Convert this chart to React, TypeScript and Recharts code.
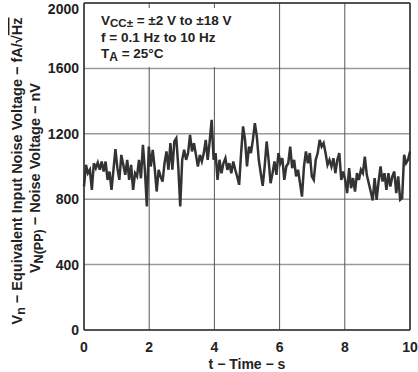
import { LineChart, Line, XAxis, YAxis, CartesianGrid, ReferenceLine } from "recharts";

// peak-to-peak noise voltage (nV) sampled evenly over 0..10 s
const noiseNv = [
  878, 1010, 959, 980, 857, 1020, 990, 1024, 980, 1030, 969, 1030, 918, 969, 857, 980, 1106, 990, 918, 1071,
  1010, 949, 1041, 918, 1010, 857, 959, 939, 1041, 928, 1132, 980, 755,
  1122, 1000, 1102, 990, 847, 980, 939, 908, 1020, 1092, 980, 1143, 980, 1153, 1173, 1000, 755, 1041, 1102,
  1041, 1082, 1194, 1092, 1143, 1071, 1000, 1071, 1031, 1082, 1163, 1041, 1153, 1286,
  1041, 1082, 918, 1041, 959, 1020, 1051, 980, 1020, 959, 1031, 980, 939, 888, 1082, 1245, 1163, 1000, 1122,
  1082, 1163, 1265, 1184, 1041, 959, 882, 1000, 1153, 1041, 898, 959, 1031, 949, 1082,
  1020, 1051, 918, 1000, 1020, 1122, 990, 1041, 939, 980, 898, 816, 1000, 1092, 1020, 1082, 939, 918, 1041,
  1082, 1163, 1122, 1143, 1082, 1010, 1041, 1000, 1051, 959, 1041, 1082, 918,
  969, 918, 837, 990, 867, 929, 847, 959, 918, 980, 959, 1061, 949, 898, 847, 792, 929, 796, 908, 1000, 908,
  959, 857, 959, 878, 939, 969, 837, 939, 796, 806, 1071, 1020, 1041, 1092,
];

const xTicks = [0, 2, 4, 6, 8, 10];
const yTicks = [0, 400, 800, 1200, 1600, 2000];

const data = noiseNv.map((v, i) => ({ t: (i * 10) / (noiseNv.length - 1), v }));

const FONT = '"Liberation Sans", Arial, Helvetica, sans-serif';

function XTick(props: any) {
  const { x, payload } = props;
  return (
    <text x={x} y={352} textAnchor="middle" fontFamily={FONT} fontWeight="bold" fontSize={14} fill="#222">
      {payload.value}
    </text>
  );
}

function YTick(props: any) {
  const { y, payload } = props;
  return (
    <text x={79} y={y + 5} textAnchor="end" fontFamily={FONT} fontWeight="bold" fontSize={14} fill="#222">
      {payload.value}
    </text>
  );
}

export default function App() {
  return (
    <div style={{ position: "absolute", left: 0, top: 0, width: 418, height: 372, background: "#fff" }}>
      <LineChart width={418} height={372} data={data} margin={{ top: 3, right: 8, bottom: 22, left: 0 }}>
        <CartesianGrid vertical={false} stroke="#9a9a9a" strokeWidth={1.5} />
        <CartesianGrid horizontal={false} stroke="#555" strokeWidth={1} />
        <XAxis
          dataKey="t"
          type="number"
          domain={[0, 10]}
          ticks={xTicks}
          tick={<XTick />}
          tickLine={false}
          axisLine={{ stroke: "#333", strokeWidth: 1.5 }}
          height={20}
        />
        <YAxis
          type="number"
          domain={[0, 2000]}
          ticks={yTicks}
          tick={<YTick />}
          tickLine={false}
          axisLine={{ stroke: "#333", strokeWidth: 1.5 }}
          width={84}
        />
        <ReferenceLine x={10} stroke="#333" strokeWidth={1.5} />
        <ReferenceLine y={2000} stroke="#333" strokeWidth={1.5} />
        <Line
          type="linear"
          dataKey="v"
          stroke="#333"
          strokeWidth={2.5}
          dot={false}
          isAnimationActive={false}
        />
      </LineChart>
      <svg
        width={418}
        height={372}
        style={{ position: "absolute", left: 0, top: 0, pointerEvents: "none" }}
        fontFamily={FONT}
        fontWeight="bold"
        fill="#222"
      >
        <rect x={87} y={8} width={178} height={59} fill="#fff" />
        <text x={101} y={25} fontSize={13.5}>
          V<tspan fontSize={11.5} dy={2}>CC±</tspan>
          <tspan dy={-2}> = ±2 V to ±18 V</tspan>
        </text>
        <text x={101} y={42} fontSize={13.5}>
          f = 0.1 Hz to 10 Hz
        </text>
        <text x={101} y={58} fontSize={13.5}>
          T<tspan fontSize={12} dy={3}>A</tspan>
          <tspan dy={-3}> = 25°C</tspan>
        </text>
        <text x={247} y={369} textAnchor="middle" fontSize={14}>
          t − Time − s
        </text>
        <text transform="translate(22,171) rotate(-90)" textAnchor="middle" fontSize={14.5}>
          V<tspan fontSize={12.5} dy={3}>n</tspan>
          <tspan dy={-3}> − Equivalent Input Noise Voltage − fA/√</tspan>
          <tspan textDecoration="overline">Hz</tspan>
        </text>
        <text transform="translate(40,178) rotate(-90)" textAnchor="middle" fontSize={14.5}>
          V<tspan fontSize={12.5} dy={3}>N(PP)</tspan>
          <tspan dy={-3}> − Noise Voltage − nV</tspan>
        </text>
      </svg>
    </div>
  );
}
